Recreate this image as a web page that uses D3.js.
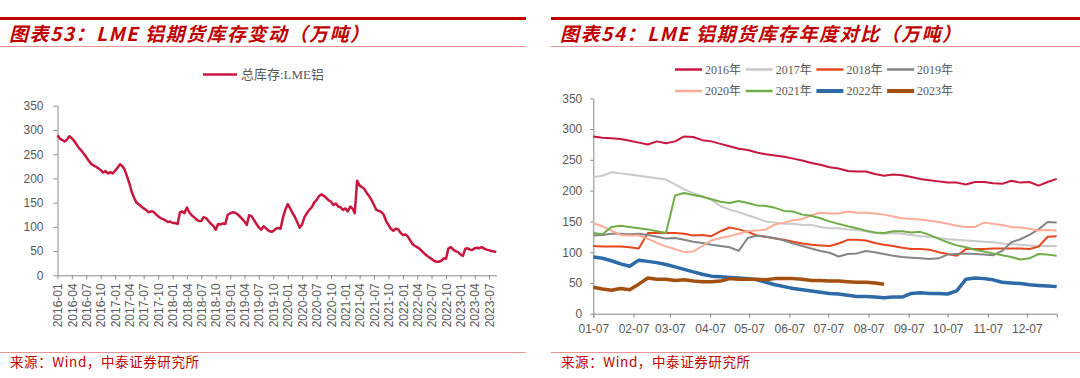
<!DOCTYPE html>
<html>
<head>
<meta charset="utf-8">
<script src="https://cdn.jsdelivr.net/npm/d3@7"></script>
<style>
body { margin: 0; background: #fff; }
svg  { display: block; }
.axis path, .axis line { stroke: #898989; }
.axis text { fill: #595959; font-family: "Liberation Sans", Arial, sans-serif; font-size: 12px; }
.title { fill: #c00000; font-family: "Noto Sans CJK SC", sans-serif; font-size: 19px; font-weight: bold; font-style: italic; letter-spacing: 1.5px; }
.source { fill: #c00000; font-family: "Noto Sans CJK SC", sans-serif; font-size: 13.5px; letter-spacing: 0.6px; }
.legend { fill: #595959; font-family: "Liberation Serif", "Noto Sans CJK SC", serif; font-size: 12px; }
</style>
</head>
<body>
<script>
/* LME total stock, semi-monthly (1st and 16th), 2016-01 .. 2023-08, 万吨 */
var stockStart  = "2016-01-01";
var stockValues = [
    289, 282, 279, 276, 280, 287, 283, 277, 270, 263, 257, 251,   // 2016
    244, 237, 230, 227, 224, 221, 217, 212, 215, 210, 213, 210,
    216, 222, 229, 225, 219, 205, 190, 172, 160, 150, 146, 142,   // 2017
    138, 135, 130, 132, 131, 126, 122, 118, 116, 113, 110, 111,
    108, 108, 106, 130, 132, 128, 140, 130, 124, 120, 115, 112,   // 2018
    112, 120, 118, 112, 106, 102,  94, 106, 105, 107, 106, 125,
    128, 130, 129, 126, 122, 117, 111, 104, 124, 122, 114, 106,   // 2019
     99,  94, 101,  97,  92,  90,  91,  96,  98,  96, 118, 135,
    147, 138, 128, 120, 110,  98, 105, 120, 128, 135, 140, 150,   // 2020
    155, 163, 167, 164, 160, 155, 152, 145, 148, 142, 140, 135,
    138, 132, 142, 137, 128, 195, 185, 182, 178, 170, 163, 155,   // 2021
    145, 135, 133, 131, 125, 112, 104,  96,  92,  96,  95,  88,
     83,  84,  80,  72,  65,  61,  58,  55,  50,  45,  41,  37,   // 2022
     34,  30,  28,  28,  30,  35,  34,  55,  58,  53,  50,  48,
     43,  40,  55,  56,  53,  52,  56,  57,  56,  58,  55,  53,   // 2023
     52,  50,  49,  48
];
var stockLabel = "总库存:LME铝";

/* weekly stock by year, first point 01-07, 万吨 */
var years = ["2016年", "2017年", "2018年", "2019年", "2020年", "2021年", "2022年", "2023年"];
var y2016 = [288, 286, 285, 284, 281, 278, 275, 280, 277, 280, 288, 287, 282, 280, 276, 272, 268, 266,
             262, 259, 257, 255, 252, 249, 245, 242, 238, 236, 232, 231, 231, 227, 224, 226, 225, 222,
             219, 217, 215, 213, 213, 210, 214, 214, 212, 211, 216, 213, 214, 208, 214, 219];
var y2017 = [222, 224, 230, 228, 226, 224, 222, 220, 218, 210, 202, 196, 191, 185, 175, 169, 165, 160,
             155, 150, 148, 146, 146, 144, 144, 141, 139, 139, 137, 136, 134, 131, 130, 131, 130, 128,
             126, 125, 123, 121, 120, 119, 118, 117, 116, 114, 113, 112, 111, 110, 110, 110];
var y2018 = [110, 109, 109, 109, 108, 106, 131, 131, 131, 131, 130, 127, 128, 126, 134, 140, 137, 133,
             127, 125, 122, 120, 117, 114, 112, 111, 110, 114, 120, 120, 119, 115, 112, 110, 107, 105,
             105, 104, 100,  97,  94, 105, 105, 105, 106, 106, 106, 106, 105, 109, 125, 126];
var y2019 = [127, 128, 130, 130, 129, 130, 128, 125, 122, 123, 120, 117, 115, 112, 110, 108, 102, 123,
             127, 125, 123, 119, 114, 110, 106, 102,  99,  93,  97,  98, 102, 100,  97,  94,  92,  91,
              90,  89,  90,  96,  97,  98,  97,  96,  95, 102, 116, 121, 128, 137, 149, 148];
var y2020 = [147, 142, 135, 128, 127, 127, 122, 115, 109, 105, 100, 101, 110, 119, 123, 126, 130, 134,
             135, 137, 145, 148, 152, 154, 160, 164, 163, 163, 166, 164, 164, 163, 161, 158, 155, 154,
             153, 151, 149, 146, 143, 141, 141, 148, 146, 144, 141, 140, 138, 135, 136, 135];
var y2021 = [131, 129, 141, 143, 141, 139, 137, 134, 131, 192, 196, 193, 190, 186, 182, 180, 183, 180,
             176, 175, 172, 167, 166, 161, 159, 155, 150, 146, 142, 139, 135, 132, 131, 134, 134, 132,
             133, 128, 122, 116, 111, 108, 104, 101,  98,  95,  92,  88,  90,  97,  96,  94];
var y2022 = [ 92,  90,  86,  81,  77,  87,  85,  83,  80,  76,  72,  68,  64,  61,  60,  59,  58,  57,
              55,  51,  47,  44,  41,  39,  37,  35,  33,  32,  30,  28,  28,  27,  26,  27,  27,  33,
              34,  33,  33,  32,  37,  56,  58,  57,  55,  51,  50,  49,  47,  46,  45,  44];
var y2023 = [ 43,  40,  38,  41,  39,  48,  58,  56,  56,  54,  55,  53,  52,  52,  53,  57,  56,  56,
              56,  55,  57,  57,  57,  56,  54,  54,  53,  53,  52,  51,  51,  50,  48];
var yearSeries = [y2016, y2017, y2018, y2019, y2020, y2021, y2022, y2023];
var yearColors = ["#c8163e", "#c9c9c9", "#e8461e", "#858585", "#ffab98", "#70ad47", "#2e6aa6", "#a34f10"];
var yearWidths = [2, 2, 2, 2, 2, 2, 3.5, 3.5];

var yTicks = [0, 50, 100, 150, 200, 250, 300, 350];

var svg = d3.select("body").append("svg")
    .attr("width", 1080)
    .attr("height", 378);

/* panel frame: red rules, title, source */
var frame = (x0, x1, title) => {
    svg.append("rect").attr("x", x0).attr("y", 17).attr("width", x1 - x0).attr("height", 3).attr("fill", "#c00000");
    svg.append("rect").attr("x", x0).attr("y", 46).attr("width", x1 - x0).attr("height", 1).attr("fill", "#e99494");
    svg.append("text").attr("class", "title").attr("x", x0 + 9).attr("y", 41).text(title);
    svg.append("rect").attr("x", x0).attr("y", 352).attr("width", x1 - x0).attr("height", 1).attr("fill", "#e99494");
    svg.append("text").attr("class", "source").attr("x", x0 + 10).attr("y", 367).text("来源：Wind，中泰证券研究所");
};

frame(0, 526, "图表53：LME 铝期货库存变动（万吨）");
frame(551, 1080, "图表54：LME 铝期货库存年度对比（万吨）");

/* ---- left chart ---- */
var parse = d3.timeParse("%Y-%m-%d");
var t0 = parse(stockStart);
var stock = stockValues.map((v, i) => ({
    date: d3.timeDay.offset(d3.timeMonth.offset(t0, Math.floor(i / 2)), (i % 2) * 15),
    value: v
}));

var xL = d3.scaleTime()
    .domain([t0, parse("2023-08-18")])
    .range([57.5, 496.6]);
var yL = d3.scaleLinear().domain([0, 350]).range([275.3, 105.7]);

svg.append("g")
   .attr("class", "axis")
   .attr("transform", "translate(57.5,0)")
   .call(d3.axisLeft(yL).tickValues(yTicks).tickSize(4).tickPadding(10).tickSizeOuter(0));

svg.append("g")
   .attr("class", "axis")
   .attr("transform", "translate(0,275.3)")
   .call(d3.axisBottom(xL)
           .tickValues(d3.timeMonth.every(3).range(t0, parse("2023-07-02")))
           .tickFormat(d3.timeFormat("%Y-%m"))
           .tickSize(4)
           .tickSizeOuter(0))
   .selectAll("text")
   .attr("transform", "rotate(-90)")
   .attr("text-anchor", "end")
   .attr("x", -8)
   .attr("y", 0)
   .attr("dy", "0.35em");

svg.append("path")
   .datum(stock)
   .attr("fill", "none")
   .attr("stroke", "#c8163e")
   .attr("stroke-width", 2.5)
   .attr("stroke-linejoin", "round")
   .attr("d", d3.line().x(d => xL(d.date)).y(d => yL(d.value)));

var legL = svg.append("g").attr("transform", "translate(203,74.5)");
legL.append("line").attr("x1", 0).attr("x2", 34).attr("stroke", "#c8163e").attr("stroke-width", 2.5);
legL.append("text").attr("class", "legend").attr("x", 38).attr("y", 4.5).style("font-size", "13px").text(stockLabel);

/* ---- right chart ---- */
var w0 = new Date(2001, 0, 7);
var xR = d3.scaleTime()
    .domain([w0, d3.timeDay.offset(w0, 357)])
    .range([593.3, 1056.7]);
var yR = d3.scaleLinear().domain([0, 350]).range([313.7, 98.3]);

svg.append("g")
   .attr("class", "axis")
   .attr("transform", "translate(593.3,0)")
   .call(d3.axisLeft(yR).tickValues(yTicks).tickSize(3).tickPadding(8).tickSizeOuter(0));

svg.append("g")
   .attr("class", "axis")
   .attr("transform", "translate(0,313.7)")
   .call(d3.axisBottom(xR)
           .tickValues(d3.range(12).map(m => new Date(2001, m, 7)))
           .tickFormat(d3.timeFormat("%m-%d"))
           .tickSize(4)
           .tickSizeOuter(4)
           .tickPadding(7));

var lineR = d3.line()
    .x((d, i) => xR(d3.timeDay.offset(w0, 7 * i)))
    .y(d => yR(d));

yearSeries.forEach((s, i) => {
    svg.append("path")
       .datum(s)
       .attr("fill", "none")
       .attr("stroke", yearColors[i])
       .attr("stroke-width", yearWidths[i])
       .attr("stroke-linejoin", "round")
       .attr("d", lineR);
});

var legR = svg.append("g")
    .selectAll("g")
    .data(years)
    .enter().append("g")
    .attr("transform", (d, i) => "translate(" + (675 + 70.7 * (i % 4)) + "," + (i < 4 ? 69.5 : 91) + ")");

legR.append("line")
    .attr("x1", 0).attr("x2", 27)
    .attr("stroke", (d, i) => yearColors[i])
    .attr("stroke-width", (d, i) => yearWidths[i] + 0.5);

legR.append("text")
    .attr("class", "legend")
    .attr("x", 30)
    .attr("y", 4)
    .text(d => d);
</script>
</body>
</html>
